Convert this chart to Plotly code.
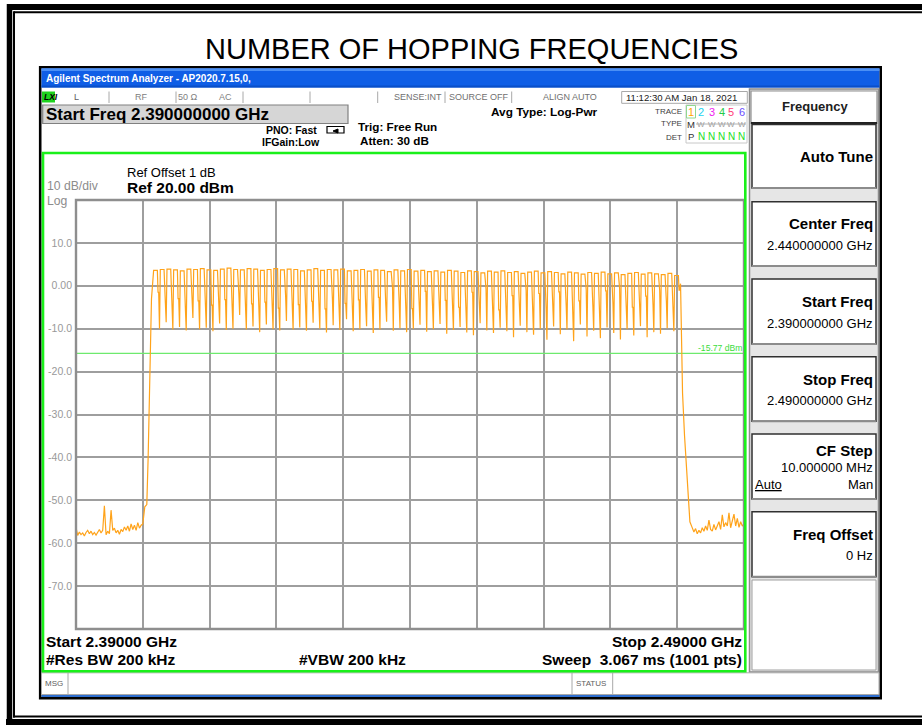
import plotly.graph_objects as go

# ---------------- data ----------------
start_ghz = 2.390
stop_ghz = 2.490
ref_level_dbm = 20.0
bottom_level_dbm = -80.0
display_line_dbm = -15.77
x_grid_ghz = [2.40, 2.41, 2.42, 2.43, 2.44, 2.45, 2.46, 2.47, 2.48]
y_tick_vals = [10, 0, -10, -20, -30, -40, -50, -60, -70]
y_tick_text = ["10.0", "0.00", "-10.0", "-20.0", "-30.0", "-40.0", "-50.0", "-60.0", "-70.0"]

# 79 hopping channels, 2402 .. 2480 MHz
channel_first_mhz = 2402
channel_peak_dbm = [
    3.6, 3.8, 3.9, 3.7, 3.5, 3.9, 3.8, 4.0, 3.7, 3.6, 3.9, 4.1, 3.8, 3.7, 4.0, 3.9, 3.6, 3.8, 4.0, 3.7,
    3.9, 3.8, 3.5, 3.7, 4.0, 3.6, 3.8, 3.7, 3.9, 3.5, 3.6, 3.8, 3.4, 3.7, 3.6, 3.3, 3.7, 3.5, 3.8, 3.4,
    3.6, 3.3, 3.5, 3.2, 3.6, 3.4, 3.1, 3.5, 3.3, 3.0, 3.4, 3.2, 3.5, 3.1, 3.3, 2.9, 3.2, 3.4, 3.0, 3.3,
    3.1, 2.8, 3.2, 3.0, 2.7, 3.1, 2.9, 3.2, 2.8, 3.0, 2.6, 2.9, 3.1, 2.7, 3.0, 2.8, 2.6, 2.9, 2.4,
]
# dips between neighbouring channels (78 values)
channel_dip_dbm = [
    -10.0, -8.5, -10.2, -9.6, -10.4, -7.5, -10.1, -9.8, -10.6, -8.8, -10.3, -10.0, -6.8, -10.2, -9.5, -10.8, -9.0, -10.1, -10.4, -8.2,
    -10.2, -9.7, -10.5, -8.6, -10.0, -10.9, -9.2, -10.3, -7.8, -10.6, -10.1, -9.4, -11.0, -10.2, -8.4, -10.5, -9.9, -10.8, -10.0, -9.1,
    -10.7, -10.1, -8.9, -11.2, -10.3, -9.6, -10.9, -11.5, -8.7, -10.4, -11.0, -9.8, -10.6, -12.0, -9.3, -10.8, -11.4, -10.0, -12.6, -9.5,
    -11.3, -10.2, -12.9, -9.0, -11.8, -10.5, -12.2, -9.7, -11.0, -12.5, -10.1, -11.6, -9.4, -12.0, -10.8, -11.2, -9.9, -10.6,
]
# shoulder level on the falling side of each channel (79 values)
channel_shoulder_dbm = [
    -1.5, -4.0, -0.5, -3.0, -5.5, -1.0, -3.5, -2.0, -4.5, -0.8, -3.2, -5.0, -1.8, -2.6, -4.2, -0.6, -3.8, -1.4, -5.2, -2.4,
    -0.9, -4.4, -2.2, -3.6, -1.2, -5.4, -2.8, -0.7, -4.1, -1.9, -3.3, -5.1, -1.1, -2.7, -4.6, -0.4, -3.9, -1.6, -5.3, -2.5,
    -1.3, -4.8, -2.1, -3.4, -0.9, -5.0, -2.9, -1.5, -4.3, -0.8, -3.1, -5.6, -1.7, -2.3, -4.7, -1.0, -3.7, -1.8, -5.2, -2.6,
    -1.4, -4.5, -2.0, -3.5, -0.9, -4.9, -2.7, -1.2, -4.0, -0.6, -3.3, -5.0, -1.9, -2.4, -4.4, -1.1, -3.6, -2.2, -1.0,
]

# noise floor below the band (2.390 .. 2.400 GHz, every 0.25 MHz) and the rising band edge
left_floor_dbm = [
    -56.3, -58.2, -57.4, -58.0, -57.6, -58.3, -57.5, -57.0, -57.8, -57.2,
    -58.0, -57.5, -58.1, -57.3, -56.8, -57.6, -57.0, -51.3, -58.0, -57.2,
    -57.8, -52.3, -57.0, -56.5, -57.6, -57.0, -57.9, -56.8, -57.3, -56.2,
    -57.0, -56.0, -57.2, -55.5, -56.8, -55.8, -57.0, -55.2, -56.5, -55.8, -55.5,
]
left_edge_ghz = [2.4003, 2.4006, 2.4008, 2.4010, 2.4011, 2.4013]
left_edge_dbm = [-51.5, -51.0, -40.0, -22.0, -11.0, -3.0]

# falling band edge and noise floor above the band (2.4825 .. 2.490 GHz, every 0.25 MHz)
right_edge_ghz = [2.4805, 2.4806, 2.4808, 2.4811, 2.4814, 2.4817, 2.4819, 2.4822]
right_edge_dbm = [0.5, -10.0, -25.0, -35.0, -42.0, -48.0, -55.0, -56.2]
right_floor_dbm = [
    -57.4, -56.6, -57.8, -57.0, -57.6, -56.4, -57.2, -56.0, -57.0, -54.6,
    -56.8, -57.2, -55.6, -56.9, -56.0, -55.0, -56.8, -53.4, -56.2, -55.2,
    -56.0, -52.9, -56.4, -55.0, -53.2, -56.0, -54.2, -56.3, -55.0, -56.0, -55.5,
]
floor_step_ghz = 0.00025
left_floor_start_ghz = 2.390
right_floor_start_ghz = 2.4825

# ---------------- build trace ----------------
tx, ty = [], []
for i, v in enumerate(left_floor_dbm):
    tx.append(left_floor_start_ghz + i * floor_step_ghz); ty.append(v)
tx += left_edge_ghz; ty += left_edge_dbm
for i, pk in enumerate(channel_peak_dbm):
    c = (channel_first_mhz + i) / 1000.0
    if i > 0:
        tx.append(c - 0.0005); ty.append(channel_dip_dbm[i - 1])
    tx += [c - 0.00038, c + 0.00018, c + 0.00028, c + 0.00038]
    ty += [pk, pk, channel_shoulder_dbm[i], channel_shoulder_dbm[i]]
tx += right_edge_ghz; ty += right_edge_dbm
for i, v in enumerate(right_floor_dbm):
    tx.append(right_floor_start_ghz + i * floor_step_ghz); ty.append(v)

# ---------------- geometry helpers (pixels -> paper) ----------------
W, H = 922, 726
L, R, T, B = 76, 744, 200, 629
FONT = "Liberation Sans, Arial, sans-serif"


def X(p):
    return (p - L) / (R - L)


def Y(p):
    return (B - p) / (B - T)


shapes, annos = [], []


def rect(x0, y0, x1, y1, fill=None, line=None, lw=0, layer="below"):
    shapes.append(dict(type="rect", xref="paper", yref="paper",
                       x0=X(x0), x1=X(x1), y0=Y(y1), y1=Y(y0),
                       fillcolor=fill or "rgba(0,0,0,0)",
                       line=dict(color=line or "rgba(0,0,0,0)", width=lw), layer=layer))


def seg(x0, y0, x1, y1, color, lw, layer="below", dash="solid"):
    shapes.append(dict(type="line", xref="paper", yref="paper",
                       x0=X(x0), x1=X(x1), y0=Y(y0), y1=Y(y1),
                       line=dict(color=color, width=lw, dash=dash), layer=layer))


def txt(x, y, s, size, color="#000000", bold=False, anchor="left", family=FONT):
    annos.append(dict(xref="paper", yref="paper", x=X(x), y=Y(y),
                      text=("<b>%s</b>" % s) if bold else s, showarrow=False,
                      xanchor=anchor, yanchor="middle", borderpad=0,
                      font=dict(family=family, size=size, color=color)))


# outer document frame
seg(9.5, 7, 930, 7, "#000000", 6)
seg(9.5, 4, 9.5, 725, "#000000", 5.5)
seg(6, 722, 930, 722, "#000000", 6)
seg(14, 12.3, 930, 12.3, "#000000", 2)
seg(14, 11.3, 14, 717.5, "#000000", 2)
seg(13, 716.5, 930, 716.5, "#000000", 2)

# title
txt(471, 49, "NUMBER OF HOPPING FREQUENCIES", 29, "#000000", anchor="center")

# instrument screen
rect(40.2, 67.2, 880.7, 698.2, fill="#FFFFFF", line="#000000", lw=2.6)
rect(41.5, 68.5, 879.4, 87.5, fill="#0F5EE6")
rect(41.5, 68.5, 879.4, 71, fill="#4A8FF5")
rect(41.5, 85.5, 879.4, 87.5, fill="#0A4FC8")
txt(45, 78.3, "Agilent Spectrum Analyzer - AP2020.7.15,0,", 10, "#FFFFFF", bold=True)

# status row
rect(42, 91.5, 55, 102.5, fill="#1ED21E")
txt(43, 97, "<i>LXI</i>", 8.5, "#000000", bold=True)
for sx in [109, 176, 243, 310, 377.7, 445, 511.7]:
    seg(sx, 91.5, sx, 103, "#A8A8A8", 1)
rect(621.7, 91.5, 747.3, 103.3, line="#A8A8A8", lw=1)
txt(76.7, 97.3, "L", 9, "#606060", anchor="center")
txt(141.7, 97.3, "RF", 9, "#808080", anchor="center")
txt(188, 97.3, "50 Ω", 9, "#808080", anchor="center")
txt(225.7, 97.3, "AC", 9, "#808080", anchor="center")
txt(443, 97.3, "SENSE:INT", 9, "#707070", anchor="right")
txt(478.5, 97.3, "SOURCE OFF", 9, "#707070", anchor="center")
txt(570, 97.3, "ALIGN AUTO", 9, "#707070", anchor="center")
txt(625, 97.3, "11:12:30 AM Jan 18, 2021", 9.6, "#202020")

# start freq box
rect(42.7, 105, 348, 123.5, fill="#D6D6D6", line="#808080", lw=1.2)
txt(45, 114.5, "Start Freq 2.390000000 GHz", 17, "#000000", bold=True)

txt(291, 130, "PNO: Fast", 10.5, "#000000", bold=True, anchor="center")
txt(291, 142, "IFGain:Low", 10.5, "#000000", bold=True, anchor="center")
shapes.append(dict(type="path", xref="paper", yref="paper",
                   path="M %f %f L %f %f L %f %f L %f %f Z" % (X(327), Y(126.5), X(344), Y(126.5), X(344), Y(133), X(327), Y(133)),
                   line=dict(color="#000000", width=1.2), fillcolor="rgba(0,0,0,0)", layer="below"))
shapes.append(dict(type="path", xref="paper", yref="paper",
                   path="M %f %f L %f %f L %f %f Z" % (X(333), Y(131), X(338), Y(129), X(338), Y(133)),
                   line=dict(color="#000000", width=1), fillcolor="#000000", layer="below"))
txt(357, 126, "Trig: Free Run", 11.7, "#000000", bold=True)
txt(359, 140.5, "Atten: 30 dB", 11.7, "#000000", bold=True)
txt(490, 112, "Avg Type: Log-Pwr", 11.8, "#000000", bold=True)

# trace info box
txt(682.7, 111.5, "TRACE", 8, "#404040", anchor="right")
txt(682.7, 123.5, "TYPE", 8, "#404040", anchor="right")
txt(682.7, 137, "DET", 8, "#404040", anchor="right")
rect(686, 105, 747, 143, fill="#FFFFFF", line="#C8C8C8", lw=1)
rect(686.5, 105.5, 695.5, 118, line="#90D890", lw=1)
num_x = [690.9, 701.3, 711.7, 721.7, 731.3, 741.7]
num_c = ["#FFA500", "#19D2F0", "#F020F0", "#22CC44", "#FF3C78", "#6A4CFF"]
for i in range(6):
    txt(num_x[i], 111.8, str(i + 1), 11, num_c[i], anchor="center")
txt(690.9, 124, "M", 9.5, "#303030", anchor="center")
for i in range(1, 6):
    txt(num_x[i], 124, "W", 8, "#A0A0A0", anchor="center")
seg(696, 124, 746, 124, "#A0A0A0", 0.8)
txt(690.9, 136.5, "P", 9.5, "#303030", anchor="center")
for i in range(1, 6):
    txt(num_x[i], 136.5, "N", 10, "#22DD22", anchor="center")

# softkey panel
rect(749.5, 89, 878.5, 672, fill="#E6E6E6", line="#8C8C8C", lw=1.5)
rect(751, 91, 877, 123.3, fill="#FFFFFF", line="#909090", lw=1.2)
seg(751, 123, 877, 123, "#202020", 2)
txt(815, 106.7, "Frequency", 13, "#202020", bold=True, anchor="center")
buttons = [(124.5, 188), (201.7, 266), (279, 344), (356.7, 421.3), (434, 499), (511.7, 576.7)]
for (b0, b1) in buttons:
    rect(752, b0, 876, b1, fill="#FFFFFF", line="#303030", lw=1.5)
    seg(752, b1, 876, b1, "#8C8C8C", 2)
rect(752, 580, 876, 670, fill="#FFFFFF", line="#A0A0A0", lw=1)
txt(874, 157, "Auto Tune", 15, "#000000", bold=True, anchor="right")
txt(874, 223.3, "Center Freq", 15, "#000000", bold=True, anchor="right")
txt(874, 245, "2.440000000 GHz", 13, "#000000", anchor="right")
txt(874, 301.7, "Start Freq", 15, "#000000", bold=True, anchor="right")
txt(874, 323.3, "2.390000000 GHz", 13, "#000000", anchor="right")
txt(874, 379.3, "Stop Freq", 15, "#000000", bold=True, anchor="right")
txt(874, 400.5, "2.490000000 GHz", 13, "#000000", anchor="right")
txt(874, 450.7, "CF Step", 15, "#000000", bold=True, anchor="right")
txt(874, 467.3, "10.000000 MHz", 13, "#000000", anchor="right")
txt(754, 484, "<u>Auto</u>", 13, "#000000")
txt(874, 484, "Man", 13, "#000000", anchor="right")
txt(874, 534, "Freq Offset", 15, "#000000", bold=True, anchor="right")
txt(874, 555.7, "0 Hz", 13, "#000000", anchor="right")

# bottom message/status row
rect(41.5, 672.8, 879, 694.5, fill="#FFFFFF", line="#A8A8A8", lw=1)
seg(68, 672.8, 68, 694.5, "#A8A8A8", 1)
seg(572, 672.8, 572, 694.5, "#A8A8A8", 1)
seg(612.7, 672.8, 612.7, 694.5, "#A8A8A8", 1)
txt(43.5, 683.5, "MSG", 8, "#606060")
txt(574.5, 683.5, "STATUS", 8, "#606060")
rect(41.5, 695, 879.4, 697, fill="#2F6FD0")

# measurement window texts
txt(126, 172, "Ref Offset 1 dB", 13, "#000000")
txt(126, 187, "Ref 20.00 dBm", 15.5, "#000000", bold=True)
txt(45.5, 186, "10 dB/div", 12.2, "#8C8C8C")
txt(45.5, 200.5, "Log", 12.2, "#8C8C8C")
txt(45, 641, "Start 2.39000 GHz", 15.5, "#000000", bold=True)
txt(45, 659, "#Res BW 200 kHz", 15.5, "#000000", bold=True)
txt(298, 659, "#VBW 200 kHz", 15.5, "#000000", bold=True)
txt(742.7, 641, "Stop 2.49000 GHz", 15.5, "#000000", bold=True, anchor="right")
txt(742.7, 659, "Sweep\u00a0\u00a03.067 ms (1001 pts)", 15.5, "#000000", bold=True, anchor="right")
txt(742.5, 347.7, "-15.77 dBm", 8.6, "#3CDC3C", anchor="right")

# graticule frame and green window frame (on top)
rect(L, T, R, B, line="#8E8E8E", lw=2.4, layer="above")
rect(43, 153, 745.3, 671.3, line="#1AF01A", lw=2.6, layer="above")

fig = go.Figure()
fig.add_trace(go.Scatter(x=[start_ghz, stop_ghz], y=[display_line_dbm, display_line_dbm],
                         mode="lines", line=dict(color="#6EEA6E", width=1.2),
                         hoverinfo="skip", showlegend=False))
fig.add_trace(go.Scatter(x=tx, y=ty, mode="lines", line=dict(color="#FFA31A", width=1.2),
                         showlegend=False))

fig.update_layout(
    width=W, height=H, autosize=False,
    margin=dict(l=L, r=W - R, t=T, b=H - B, pad=0),
    paper_bgcolor="#FFFFFF", plot_bgcolor="#FFFFFF",
    shapes=shapes, annotations=annos, showlegend=False,
    xaxis=dict(range=[start_ghz, stop_ghz], tickvals=x_grid_ghz, showticklabels=False,
               showgrid=True, gridcolor="#9E9E9E", gridwidth=1.5, zeroline=False,
               showline=False, ticks="", fixedrange=True),
    yaxis=dict(range=[bottom_level_dbm, ref_level_dbm], tickvals=y_tick_vals, ticktext=y_tick_text,
               showgrid=True, gridcolor="#9E9E9E", gridwidth=1.5, zeroline=False,
               showline=False, ticks="", ticklabelstandoff=3,
               tickfont=dict(family=FONT, size=10.5, color="#999999"), fixedrange=True),
)

fig.write_html("out.html", config={"displayModeBar": False},
               post_script="document.body.style.margin='0';document.body.style.padding='0';")
